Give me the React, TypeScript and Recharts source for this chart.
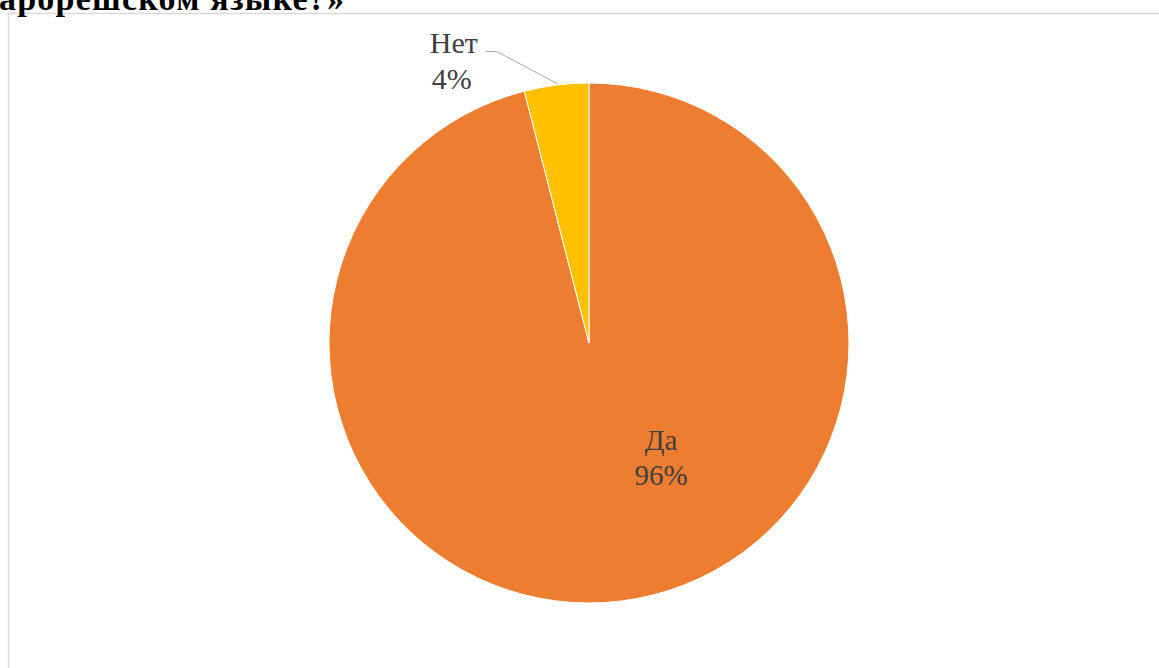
import React from "react";
import { PieChart, Pie, Cell } from "recharts";

const categories = ["Да", "Нет"];
const values = [96, 4];
const colors = ["#ED7D31", "#FFC000"];
const titleText = "арорешском языке?»";

const data = categories.map((name, i) => ({ name, value: values[i] }));

const FONT = "'Liberation Serif', 'Times New Roman', serif";
const labelStyle: React.CSSProperties = { fontFamily: FONT, fontSize: 29 };

const renderLabel = (props: any) => {
  const { cx, cy, outerRadius, index, name, percent } = props;
  const pct = `${Math.round(percent * 100)}%`;
  if (index === 0) {
    const x = cx + outerRadius * 0.277;
    const y = cy + outerRadius * 0.41;
    return (
      <text x={x} y={y} textAnchor="middle" fill="#404040" style={labelStyle}>
        <tspan x={x} dy={0}>{name}</tspan>
        <tspan x={x} dy={35}>{pct}</tspan>
      </text>
    );
  }
  const x = cx - outerRadius * 0.52;
  const y = cy - outerRadius * 1.117;
  return (
    <g>
      <polyline
        points={`${cx - outerRadius * 0.397},${cy - outerRadius * 1.121} ${cx - outerRadius * 0.355},${cy - outerRadius * 1.121} ${cx - outerRadius * 0.119},${cy - outerRadius * 0.996}`}
        fill="none"
        stroke="#A6A6A6"
        strokeWidth={1}
      />
      <text x={x} y={y} textAnchor="middle" fill="#404040" style={{ ...labelStyle, fontSize: 30 }}>
        <tspan x={x} dy={0}>{name}</tspan>
        <tspan x={x - 2} dy={36}>{pct}</tspan>
      </text>
    </g>
  );
};

export default function App() {
  return (
    <div style={{ position: "absolute", left: 0, top: 0, width: 1159, height: 668, background: "#fff", overflow: "hidden" }}>
      <svg width={1159} height={668} style={{ position: "absolute", left: 0, top: 0 }}>
        <rect x={8.5} y={13.5} width={1200} height={700} fill="#fff" stroke="#D9D9D9" strokeWidth={1.5} />
        <text x={-1} y={10} textLength={345} lengthAdjust="spacing" fill="#000" style={{ fontFamily: FONT, fontWeight: "bold", fontSize: 34 }}>
          {titleText}
        </text>
      </svg>
      <div style={{ position: "absolute", left: 0, top: 0 }}>
        <PieChart width={1159} height={668} margin={{ top: 0, right: 0, bottom: 0, left: 0 }}>
          <Pie
            data={data}
            dataKey="value"
            nameKey="name"
            cx={589}
            cy={343}
            outerRadius={260}
            startAngle={90}
            endAngle={-270}
            stroke="#FFFFFF"
            strokeWidth={1}
            isAnimationActive={false}
            label={renderLabel}
            labelLine={false}
          >
            {data.map((d, i) => (
              <Cell key={d.name} fill={colors[i]} />
            ))}
          </Pie>
        </PieChart>
      </div>
    </div>
  );
}
